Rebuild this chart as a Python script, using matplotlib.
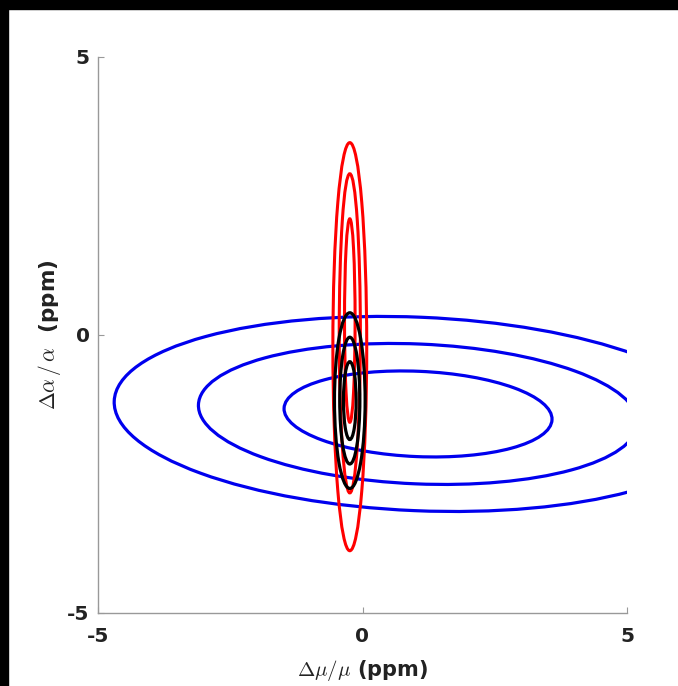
import numpy as np
import matplotlib
matplotlib.use("Agg")
import matplotlib.pyplot as plt
from matplotlib.patches import Ellipse, Rectangle

plt.rcParams["font.family"] = ["DejaVu Sans"]
plt.rcParams["mathtext.fontset"] = "cm"

# confidence levels (delta chi^2 for 1, 2, 3 sigma in 2D)
levels = [2.30, 6.18, 11.83]

# blue: broad, slightly correlated constraint
blue_center = (1.05, -1.42)
blue_sigma = (1.67, 0.51)
blue_rho = -0.12

red_x = [-0.24, -0.24, -0.24]
red_y = [0.26, 0.03, -0.21]
red_halfw = [0.10, 0.20, 0.32]
red_halfh = [1.83, 2.87, 3.67]

# black: combined constraint
black_x = [-0.24, -0.24, -0.24]
black_y = [-1.18, -1.18, -1.18]
black_halfw = [0.12, 0.19, 0.29]
black_halfh = [0.70, 1.14, 1.58]

ticks = [-5, 0, 5]

fig = plt.figure(figsize=(6.78, 6.86), dpi=100)
ax = fig.add_axes([98 / 678, 1 - 613 / 686, 529 / 678, 556 / 686])

# blue ellipses from the covariance
sx, sy = blue_sigma
cov = np.array([[sx**2, blue_rho * sx * sy], [blue_rho * sx * sy, sy**2]])
vals, vecs = np.linalg.eigh(cov)
order = vals.argsort()[::-1]
vals, vecs = vals[order], vecs[:, order]
angle = np.degrees(np.arctan2(vecs[1, 0], vecs[0, 0]))
for lv in levels:
    k = np.sqrt(lv)
    ax.add_patch(Ellipse(blue_center, 2 * k * np.sqrt(vals[0]), 2 * k * np.sqrt(vals[1]),
                         angle=angle, fill=False, color="#0000ee", lw=2.3))

for x, y, w, h in zip(red_x, red_y, red_halfw, red_halfh):
    ax.add_patch(Ellipse((x, y), 2 * w, 2 * h, fill=False, color="red", lw=2.2))

for x, y, w, h in zip(black_x, black_y, black_halfw, black_halfh):
    ax.add_patch(Ellipse((x, y), 2 * w, 2 * h, fill=False, color="black", lw=2.3))

ax.set_xlim(-5, 5)
ax.set_ylim(-5, 5)
ax.set_xticks(ticks)
ax.set_yticks(ticks)
ax.set_xticklabels([str(t) for t in ticks], fontweight="bold")
ax.set_yticklabels([str(t) for t in ticks], fontweight="bold")
ax.tick_params(direction="in", length=4, width=0.8, color="#999999",
               labelsize=14.5, labelcolor="#222222")
ax.tick_params(axis="x", pad=10)
ax.tick_params(axis="y", pad=6)
for side in ["top", "right"]:
    ax.spines[side].set_visible(False)
for side in ["left", "bottom"]:
    ax.spines[side].set_color("#999999")
    ax.spines[side].set_linewidth(1.0)

ax.set_xlabel(r"$\Delta\mu/\mu$ (ppm)", fontsize=15, fontweight="bold",
              color="#222222", labelpad=9)
ax.set_ylabel(r"$\Delta\alpha\,/\,\alpha$  (ppm)", fontsize=15.5, fontweight="bold",
              color="#222222", labelpad=3)

# black frame strips at the top and left edge of the image
fig.patches.append(Rectangle((0, 1 - 9 / 686), 1, 9 / 686, transform=fig.transFigure,
                             color="black", zorder=10))
fig.patches.append(Rectangle((0, 0), 8 / 678, 1, transform=fig.transFigure,
                             color="black", zorder=10))

fig.savefig("out.png", dpi=100)
